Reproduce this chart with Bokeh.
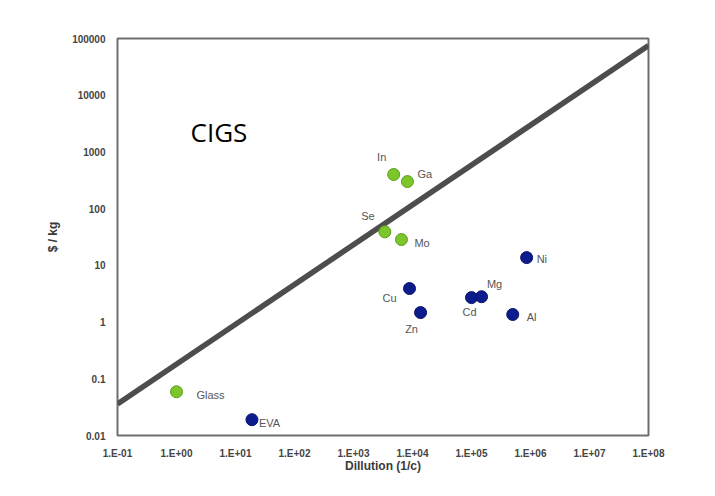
from bokeh.plotting import figure
from bokeh.models import Range1d, FixedTicker, CustomJSTickFormatter, ColumnDataSource, Label
from bokeh.core.properties import value
from bokeh.embed import file_html
from bokeh.resources import INLINE

# ---- data ----
green_names = ["In", "Ga", "Se", "Mo", "Glass"]
green_x = [4800, 8200, 3400, 6500, 1.0]
green_y = [400, 300, 39, 28.5, 0.059]

blue_names = ["Ni", "Cu", "Zn", "Cd", "Mg", "Al", "EVA"]
blue_x = [860000, 8900, 13700, 100000, 148000, 500000, 19]
blue_y = [13.7, 3.9, 1.47, 2.7, 2.8, 1.36, 0.019]

line_x = [0.1, 1e8]
line_y = [0.036, 75000]

x_ticks = [1e-1, 1e0, 1e1, 1e2, 1e3, 1e4, 1e5, 1e6, 1e7, 1e8]
x_labels = ["1.E-01", "1.E+00", "1.E+01", "1.E+02", "1.E+03", "1.E+04",
            "1.E+05", "1.E+06", "1.E+07", "1.E+08"]
y_ticks = [0.01, 0.1, 1, 10, 100, 1000, 10000, 100000]
y_labels = ["0.01", "0.1", "1", "10", "100", "1000", "10000", "100000"]

# label offsets in pixels (style), and alignment
green_off = {"In": (-12, -17, "center"), "Ga": (10, -8, "left"), "Se": (-17, -16, "center"),
             "Mo": (13, 3, "left"), "Glass": (20, 3, "left")}
blue_off = {"Ni": (10, 1, "left"), "Cu": (-20, 9, "center"), "Zn": (-9, 16, "center"),
            "Cd": (-2, 14, "center"), "Mg": (13, -13, "center"), "Al": (14, 3, "left"),
            "EVA": (7, 3, "left")}

p = figure(width=707, height=488, x_axis_type="log", y_axis_type="log",
           x_range=Range1d(0.1, 1e8), y_range=Range1d(0.01, 1e5),
           output_backend="svg", toolbar_location=None,
           min_border_left=117, min_border_right=59, min_border_top=38, min_border_bottom=53)

p.xgrid.visible = False
p.ygrid.visible = False
p.outline_line_color = "#6e6e6e"
p.outline_line_width = 2
p.background_fill_color = "white"
p.border_fill_color = "white"

def fmt(tv, tl):
    return CustomJSTickFormatter(args=dict(tv=tv, tl=tl), code="""
        let best = 0, bd = 1e9;
        for (let i = 0; i < tv.length; i++) {
            const d = Math.abs(Math.log10(tv[i]) - Math.log10(tick));
            if (d < bd) { bd = d; best = i; }
        }
        return tl[best];
    """)

for ax in (p.xaxis[0], p.yaxis[0]):
    ax.axis_line_color = None
    ax.major_tick_line_color = None
    ax.minor_tick_line_color = None
    ax.major_label_text_font = "Liberation Sans"
    ax.major_label_text_font_size = "10px"
    ax.major_label_text_font_style = "bold"
    ax.major_label_text_color = "#444444"
    ax.axis_label_text_font = "Liberation Sans"
    ax.axis_label_text_font_size = "12px"
    ax.axis_label_text_font_style = "bold"
    ax.axis_label_text_color = "#3a3a3a"

p.xaxis.ticker = FixedTicker(ticks=x_ticks, minor_ticks=[])
p.xaxis.formatter = fmt(x_ticks, x_labels)
p.xaxis.major_label_standoff = 6
p.xaxis.axis_label = "Dillution (1/c)"
p.xaxis.axis_label_standoff = -3

p.yaxis.ticker = FixedTicker(ticks=y_ticks, minor_ticks=[])
p.yaxis.formatter = fmt(y_ticks, y_labels)
p.yaxis.major_label_standoff = 6
p.yaxis.axis_label = "$ / kg"
p.yaxis.axis_label_standoff = 9

p.line(line_x, line_y, line_color="#4d4d4d", line_width=5.5)

gsrc = ColumnDataSource(dict(x=green_x, y=green_y, name=green_names,
                             dx=[green_off[n][0] for n in green_names],
                             dy=[green_off[n][1] for n in green_names],
                             al=[green_off[n][2] for n in green_names]))
bsrc = ColumnDataSource(dict(x=blue_x, y=blue_y, name=blue_names,
                             dx=[blue_off[n][0] for n in blue_names],
                             dy=[blue_off[n][1] for n in blue_names],
                             al=[blue_off[n][2] for n in blue_names]))

p.scatter("x", "y", source=gsrc, size=12, fill_color="#7cc52a", line_color="#5f9e1e", line_width=1)
p.scatter("x", "y", source=bsrc, size=12, fill_color="#0c1c8c", line_color="#08136a", line_width=1)

for src in (gsrc, bsrc):
    p.text("x", "y", text="name", source=src, x_offset="dx", y_offset="dy",
           text_align="al", text_baseline="middle", text_font=value("Liberation Sans"),
           text_font_size="11px", text_color="#555555")

p.add_layout(Label(x=1.73, y=2290, text="CIGS", text_font="Open Sans", text_font_size="26px",
                   text_color="black", text_baseline="middle", text_align="left"))

open("out.html", "w").write(file_html(p, INLINE))
